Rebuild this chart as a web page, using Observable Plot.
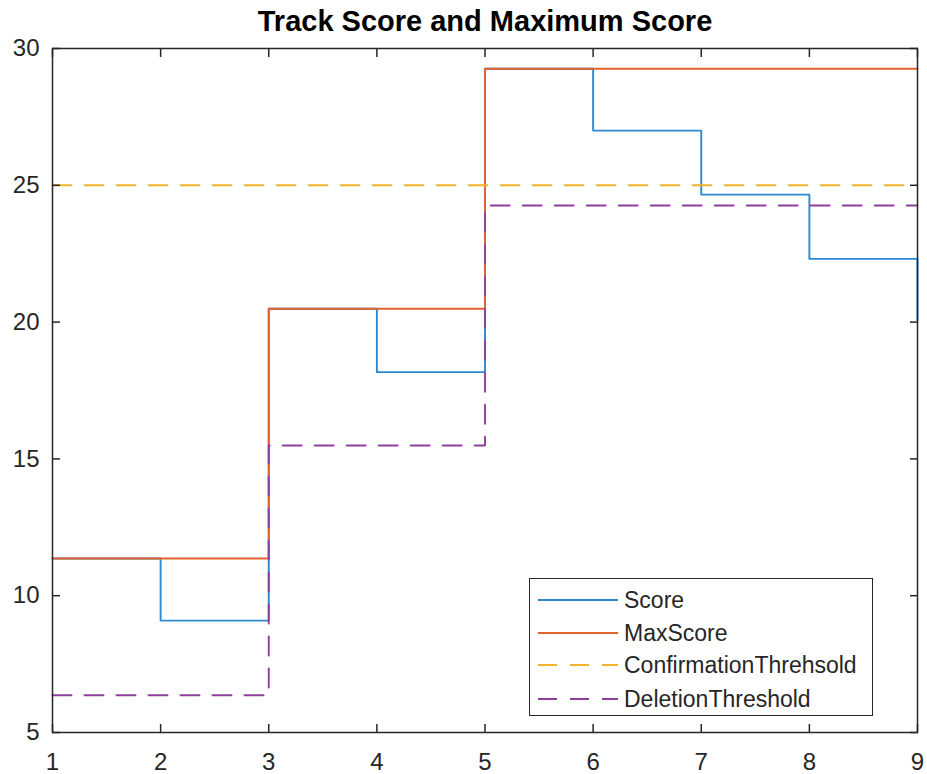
<!DOCTYPE html>
<html>
<head>
<meta charset="utf-8">
<script src="https://cdn.jsdelivr.net/npm/d3@7"></script>
<script src="https://cdn.jsdelivr.net/npm/@observablehq/plot@0.6"></script>
<style>
  html, body { margin: 0; padding: 0; background: #fff; }
  #wrap { position: relative; width: 927px; height: 774px; font-family: "Liberation Sans", Arial, sans-serif; color: #262626; }
  #title { height: 30px; line-height: 42px; padding-left: 52px; padding-right: 9px; text-align: center; font-weight: bold; font-size: 29px; color: #000; white-space: nowrap; overflow: visible; }
  #legend { position: absolute; left: 529px; top: 578px; width: 342px; height: 136px; border: 1.5px solid #262626; background: #fff; }
  .row { position: absolute; left: 0; height: 30px; width: 100%; }
  .row svg { position: absolute; left: 8px; top: 0; }
  .row span { position: absolute; left: 94px; top: 0; line-height: 30px; font-size: 23px; color: #262626; white-space: nowrap; }
</style>
</head>
<body>
<div id="wrap">
  <div id="title"></div>
  <div id="chart"></div>
  <div id="legend"></div>
</div>
<script>
const title = "Track Score and Maximum Score";
const steps = [1, 2, 3, 4, 5, 6, 7, 8, 9];
const score = [11.36, 9.09, 20.49, 18.17, 29.26, 27.0, 24.66, 22.31, 20.06];
const maxScore = [11.36, 11.36, 20.49, 20.49, 29.26, 29.26, 29.26, 29.26, 29.26];
const confirmationThreshold = [25, 25, 25, 25, 25, 25, 25, 25, 25];
const deletionThreshold = [6.36, 6.36, 15.49, 15.49, 24.26, 24.26, 24.26, 24.26, 24.26];
const seriesNames = ["Score", "MaxScore", "ConfirmationThrehsold", "DeletionThreshold"];
const seriesColors = ["#2b8ad3", "#e2622a", "#efb42c", "#8e3f9c"];
const seriesDashed = [false, false, true, true];
const xTicks = [1, 2, 3, 4, 5, 6, 7, 8, 9];
const yTicks = [5, 10, 15, 20, 25, 30];

document.getElementById("title").textContent = title;

const seriesValues = [score, maxScore, confirmationThreshold, deletionThreshold];
const rows = [];
seriesValues.forEach((vals, si) => {
  vals.forEach((v, i) => rows.push({series: seriesNames[si], x: steps[i], y: v}));
});

const dash = "19,13";
const lineMarks = seriesNames.map((name, si) =>
  Plot.line(rows.filter(r => r.series === name), {
    x: "x", y: "y", curve: "step-after",
    stroke: seriesColors[si], strokeWidth: 1.9,
    strokeDasharray: seriesDashed[si] ? dash : null
  })
);

const axisColor = "#262626";
const chart = Plot.plot({
  width: 927,
  height: 744,
  marginLeft: 52,
  marginRight: 10,
  marginTop: 18,
  marginBottom: 42,
  style: {fontFamily: "'Liberation Sans', Arial, sans-serif", fontSize: "24px", color: axisColor, background: "#fff", overflow: "visible"},
  x: {domain: [1, 9]},
  y: {domain: [5, 30]},
  marks: [
    ...lineMarks,
    Plot.frame({stroke: axisColor, strokeWidth: 1.5}),
    Plot.axisX(xTicks, {anchor: "bottom", tickSize: 0, tickPadding: 20, label: null, fontSize: 24, fill: axisColor}),
    Plot.axisX(xTicks, {anchor: "bottom", tickSize: -8, text: null, label: null, stroke: axisColor, strokeWidth: 1.5}),
    Plot.axisX(xTicks, {anchor: "top", tickSize: -8, text: null, label: null, stroke: axisColor, strokeWidth: 1.5}),
    Plot.axisY(yTicks, {anchor: "left", tickSize: 0, tickPadding: 13, label: null, fontSize: 24, fill: axisColor}),
    Plot.axisY(yTicks, {anchor: "left", tickSize: -8, text: null, label: null, stroke: axisColor, strokeWidth: 1.5}),
    Plot.axisY(yTicks, {anchor: "right", tickSize: -8, text: null, label: null, stroke: axisColor, strokeWidth: 1.5})
  ]
});
document.getElementById("chart").appendChild(chart);

// Legend
const legend = document.getElementById("legend");
const rowTops = [6, 39, 71, 105];
seriesNames.forEach((name, si) => {
  const row = document.createElement("div");
  row.className = "row";
  row.style.top = rowTops[si] + "px";
  const svg = d3.create("svg").attr("width", 82).attr("height", 30);
  svg.append("line").attr("x1", 0).attr("x2", 80).attr("y1", 15).attr("y2", 15)
    .attr("stroke", seriesColors[si]).attr("stroke-width", 1.9)
    .attr("stroke-dasharray", seriesDashed[si] ? dash : null);
  row.appendChild(svg.node());
  const span = document.createElement("span");
  span.textContent = name;
  row.appendChild(span);
  legend.appendChild(row);
});
</script>
</body>
</html>
